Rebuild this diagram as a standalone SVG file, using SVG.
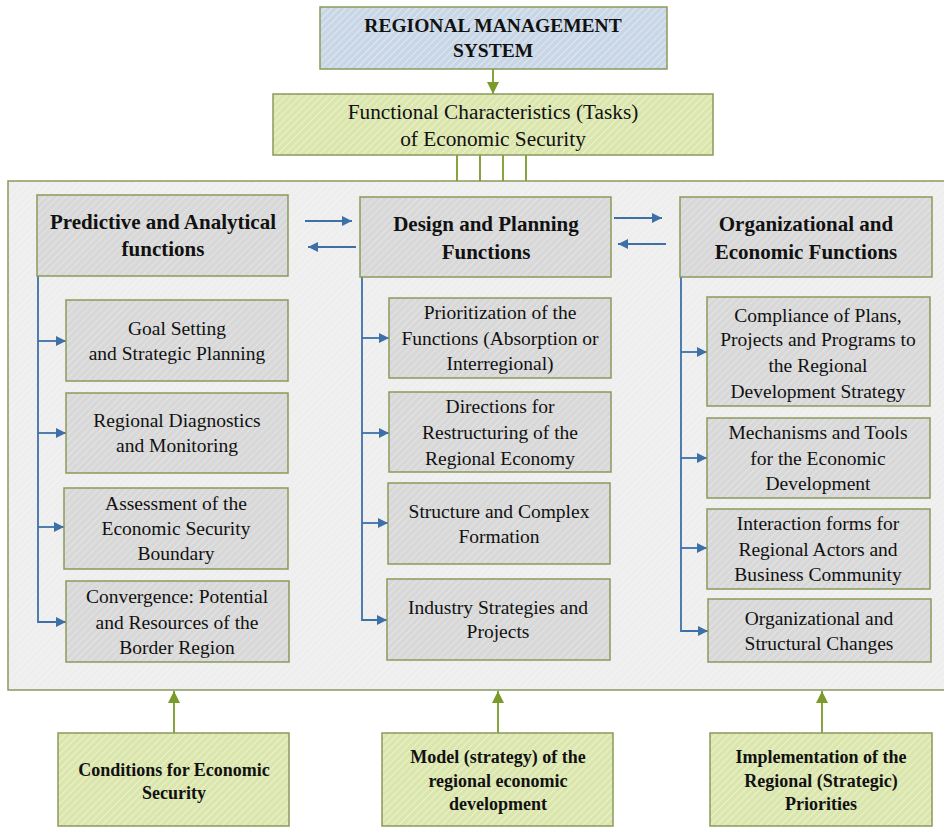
<svg xmlns="http://www.w3.org/2000/svg" width="944" height="827" viewBox="0 0 944 827">
<defs>
<pattern id="hg" width="5" height="5" patternUnits="userSpaceOnUse" patternTransform="rotate(45)"><rect width="5" height="5" fill="#d8d8d8"/><line x1="0" y1="0" x2="0" y2="5" stroke="#e8e8e8" stroke-width="1.6"/></pattern>
<pattern id="hb" width="5" height="5" patternUnits="userSpaceOnUse" patternTransform="rotate(45)"><rect width="5" height="5" fill="#c8d6e6"/><line x1="0" y1="0" x2="0" y2="5" stroke="#e6edf5" stroke-width="1.6"/></pattern>
<pattern id="hy" width="5" height="5" patternUnits="userSpaceOnUse" patternTransform="rotate(45)"><rect width="5" height="5" fill="#dbe6ad"/><line x1="0" y1="0" x2="0" y2="5" stroke="#f0f5da" stroke-width="1.6"/></pattern>
<pattern id="hc" width="5" height="5" patternUnits="userSpaceOnUse" patternTransform="rotate(45)"><rect width="5" height="5" fill="#eeeeee"/><line x1="0" y1="0" x2="0" y2="5" stroke="#f5f5f5" stroke-width="1.6"/></pattern>
<marker id="ab" viewBox="0 0 10 10" refX="10" refY="5" markerWidth="10" markerHeight="10" markerUnits="userSpaceOnUse" orient="auto"><path d="M0,0 L10,5 L0,10 z" fill="#3e70a8"/></marker>
<marker id="ag" viewBox="0 0 10 10" refX="10" refY="5" markerWidth="12" markerHeight="12" markerUnits="userSpaceOnUse" orient="auto"><path d="M0,0 L10,5 L0,10 z" fill="#7b9a2a"/></marker>
</defs>
<style>
.b{stroke:#8a9a5b;stroke-width:1.5}
.g{fill:url(#hg)}
text{font-family:'Liberation Serif','Times New Roman','DejaVu Serif',serif;fill:#111;text-anchor:middle}
.t{font-size:19.5px}
.h{font-size:21px;font-weight:bold}
.s{font-size:18px;font-weight:bold}
.bl{stroke:#3e70a8;stroke-width:1.8;fill:none}
.gl{stroke:#7b9a2a;stroke-width:1.8;fill:none}
</style>
<rect x="8" y="181" width="945" height="509" fill="url(#hc)" class="b"/>
<g id="connectors">
<line x1="493" y1="69" x2="493" y2="94" class="gl" marker-end="url(#ag)"/>
<line x1="457" y1="155" x2="457" y2="181" class="gl"/>
<line x1="480" y1="155" x2="480" y2="181" class="gl"/>
<line x1="503" y1="155" x2="503" y2="181" class="gl"/>
<line x1="526" y1="155" x2="526" y2="181" class="gl"/>
<line x1="305" y1="221" x2="352" y2="221" class="bl" marker-end="url(#ab)"/>
<line x1="356" y1="247" x2="308" y2="247" class="bl" marker-end="url(#ab)"/>
<line x1="614" y1="218" x2="662" y2="218" class="bl" marker-end="url(#ab)"/>
<line x1="666" y1="244" x2="618" y2="244" class="bl" marker-end="url(#ab)"/>
<path d="M38,276 V622 H66" class="bl" marker-end="url(#ab)"/>
<path d="M38,341 H66" class="bl" marker-end="url(#ab)"/>
<path d="M38,433 H66" class="bl" marker-end="url(#ab)"/>
<path d="M38,527 H64" class="bl" marker-end="url(#ab)"/>
<path d="M362,277 V620 H387" class="bl" marker-end="url(#ab)"/>
<path d="M362,338 H389" class="bl" marker-end="url(#ab)"/>
<path d="M362,433 H389" class="bl" marker-end="url(#ab)"/>
<path d="M362,523 H388" class="bl" marker-end="url(#ab)"/>
<path d="M681,277 V631 H708" class="bl" marker-end="url(#ab)"/>
<path d="M681,352 H707" class="bl" marker-end="url(#ab)"/>
<path d="M681,458 H707" class="bl" marker-end="url(#ab)"/>
<path d="M681,548 H707" class="bl" marker-end="url(#ab)"/>
<line x1="174" y1="733" x2="174" y2="691" class="gl" marker-end="url(#ag)"/>
<line x1="498" y1="733" x2="498" y2="691" class="gl" marker-end="url(#ag)"/>
<line x1="822" y1="733" x2="822" y2="691" class="gl" marker-end="url(#ag)"/>
</g>
<g id="rms"><rect x="320" y="7" width="347" height="62" fill="url(#hb)" class="b"/><text class="h" style="font-size:19.5px" x="493" y="32">REGIONAL MANAGEMENT</text><text class="h" style="font-size:19.5px" x="493" y="57">SYSTEM</text></g>
<g id="fces"><rect x="273" y="94" width="440" height="61" fill="url(#hy)" class="b"/><text class="t" style="font-size:21.3px" x="493" y="119">Functional Characteristics (Tasks)</text><text class="t" style="font-size:21.3px" x="493" y="146">of Economic Security</text></g>
<g id="paf"><rect x="37" y="195" width="251" height="81" class="b g"/><text class="h" x="163" y="229">Predictive and Analytical</text><text class="h" x="163" y="256">functions</text></g>
<g id="dpf"><rect x="360" y="197" width="251" height="80" class="b g"/><text class="h" x="486" y="231">Design and Planning</text><text class="h" x="486" y="259">Functions</text></g>
<g id="oef"><rect x="680" y="197" width="252" height="80" class="b g"/><text class="h" x="806" y="231">Organizational and</text><text class="h" x="806" y="259">Economic Functions</text></g>
<g id="gs"><rect x="66" y="300" width="222" height="81" class="b g"/><text class="t" x="177" y="335">Goal Setting</text><text class="t" x="177" y="360">and Strategic Planning</text></g>
<g id="rdm"><rect x="66" y="393" width="222" height="80" class="b g"/><text class="t" x="177" y="427">Regional Diagnostics</text><text class="t" x="177" y="452">and Monitoring</text></g>
<g id="aesb"><rect x="64" y="488" width="224" height="81" class="b g"/><text class="t" x="176" y="510">Assessment of the</text><text class="t" x="176" y="535">Economic Security</text><text class="t" x="176" y="560">Boundary</text></g>
<g id="conv"><rect x="66" y="581" width="223" height="81" class="b g"/><text class="t" x="177" y="603">Convergence: Potential</text><text class="t" x="177" y="629">and Resources of the</text><text class="t" x="177" y="654">Border Region</text></g>
<g id="prio"><rect x="389" y="298" width="222" height="80" class="b g"/><text class="t" x="500" y="319">Prioritization of the</text><text class="t" x="500" y="345">Functions (Absorption or</text><text class="t" x="500" y="370">Interregional)</text></g>
<g id="dir"><rect x="389" y="392" width="222" height="80" class="b g"/><text class="t" x="500" y="413">Directions for</text><text class="t" x="500" y="439">Restructuring of the</text><text class="t" x="500" y="465">Regional Economy</text></g>
<g id="scf"><rect x="388" y="483" width="222" height="81" class="b g"/><text class="t" x="499" y="518">Structure and Complex</text><text class="t" x="499" y="543">Formation</text></g>
<g id="isp"><rect x="387" y="579" width="223" height="81" class="b g"/><text class="t" x="498" y="614">Industry Strategies and</text><text class="t" x="498" y="638">Projects</text></g>
<g id="comp"><rect x="707" y="297" width="223" height="109" class="b g"/><text class="t" x="818" y="322">Compliance of Plans,</text><text class="t" x="818" y="346">Projects and Programs to</text><text class="t" x="818" y="372">the Regional</text><text class="t" x="818" y="398">Development Strategy</text></g>
<g id="mech"><rect x="707" y="418" width="223" height="80" class="b g"/><text class="t" x="818" y="439">Mechanisms and Tools</text><text class="t" x="818" y="465">for the Economic</text><text class="t" x="818" y="490">Development</text></g>
<g id="inter"><rect x="707" y="509" width="223" height="80" class="b g"/><text class="t" x="818" y="530">Interaction forms for</text><text class="t" x="818" y="556">Regional Actors and</text><text class="t" x="818" y="581">Business Community</text></g>
<g id="osc"><rect x="708" y="599" width="223" height="63" class="b g"/><text class="t" x="819" y="625">Organizational and</text><text class="t" x="819" y="650">Structural Changes</text></g>
<g id="cond"><rect x="58" y="733" width="231" height="93" fill="url(#hy)" class="b"/><text class="s" x="174" y="776">Conditions for Economic</text><text class="s" x="174" y="799">Security</text></g>
<g id="model"><rect x="382" y="733" width="231" height="93" fill="url(#hy)" class="b"/><text class="s" x="498" y="763">Model (strategy) of the</text><text class="s" x="498" y="787">regional economic</text><text class="s" x="498" y="810">development</text></g>
<g id="impl"><rect x="710" y="733" width="222" height="93" fill="url(#hy)" class="b"/><text class="s" x="821" y="763">Implementation of the</text><text class="s" x="821" y="787">Regional (Strategic)</text><text class="s" x="821" y="810">Priorities</text></g>
</svg>
